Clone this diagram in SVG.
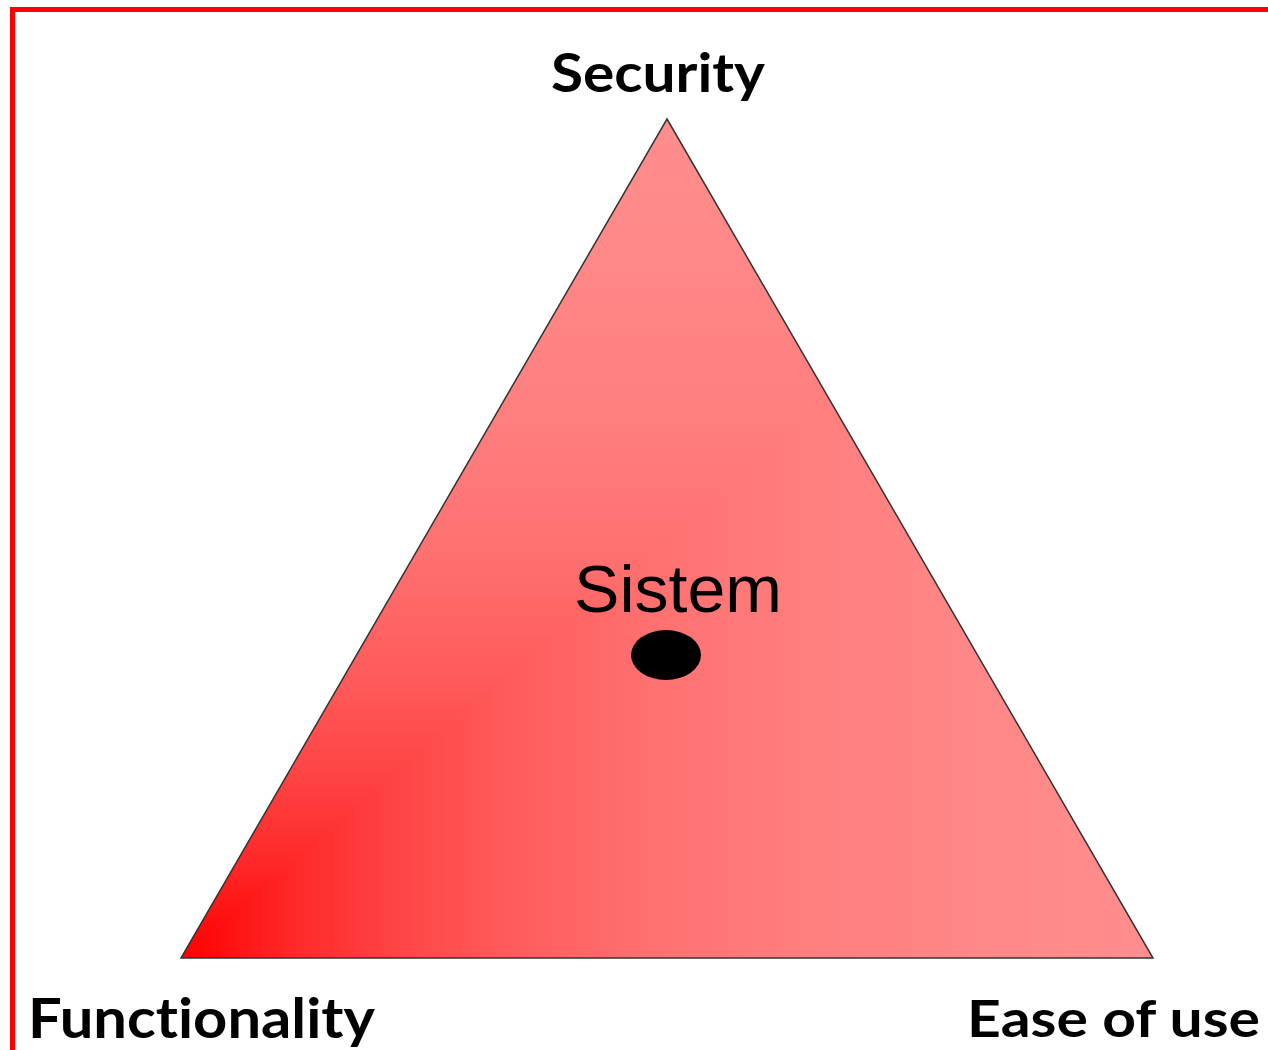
<svg xmlns="http://www.w3.org/2000/svg" width="1268" height="1050" viewBox="0 0 1268 1050">
  <style>
    .label { font-family: Lato, "Open Sans", "Liberation Sans", sans-serif; font-weight: bold; fill: #000; font-variant-ligatures: none; font-feature-settings: "liga" 0, "clig" 0; }
    .center { font-family: "Liberation Sans", Arial, sans-serif; fill: #000; }
    .frame { fill: #ff0000; }
  </style>
  <defs>
    <linearGradient id="gH" gradientUnits="userSpaceOnUse" x1="181" y1="0" x2="1153" y2="0">
      <stop offset="0" stop-color="#ff0000"/>
      <stop offset="0.12" stop-color="#ff2a2a"/>
      <stop offset="0.22" stop-color="#ff4444"/>
      <stop offset="0.33" stop-color="#ff5a5a"/>
      <stop offset="0.48" stop-color="#ff7070"/>
      <stop offset="0.64" stop-color="#ff7e7e"/>
      <stop offset="0.84" stop-color="#ff8888"/>
      <stop offset="1" stop-color="#ff8e8e"/>
    </linearGradient>
    <linearGradient id="gV" gradientUnits="userSpaceOnUse" x1="0" y1="958" x2="0" y2="119">
      <stop offset="0" stop-color="#ff0000"/>
      <stop offset="0.12" stop-color="#ff2a2a"/>
      <stop offset="0.22" stop-color="#ff4444"/>
      <stop offset="0.33" stop-color="#ff5a5a"/>
      <stop offset="0.48" stop-color="#ff7070"/>
      <stop offset="0.64" stop-color="#ff7e7e"/>
      <stop offset="0.84" stop-color="#ff8888"/>
      <stop offset="1" stop-color="#ff8e8e"/>
    </linearGradient>
  </defs>

  <rect x="0" y="0" width="1268" height="1050" fill="#ffffff"/>
  <g id="frame">
    <rect class="frame" x="10" y="7" width="1258" height="5"/>
    <rect class="frame" x="10" y="7" width="5" height="1043"/>
  </g>

  <g id="triangle">
    <polygon points="667,119 1153,958 181,958" fill="url(#gV)"/>
    <polygon points="181,958 1153,958 829,398.7" fill="url(#gH)"/>
    <polygon points="667,119 1153,958 181,958" fill="none" stroke="#333333" stroke-width="1.5" stroke-linejoin="miter"/>
  </g>

  <g id="node-security">
    <text class="label" x="551" y="92" font-size="54" textLength="214" lengthAdjust="spacingAndGlyphs">Security</text>
  </g>
  <g id="node-functionality">
    <text class="label" x="28" y="1038" font-size="56" textLength="347" lengthAdjust="spacingAndGlyphs">Functionality</text>
  </g>
  <g id="node-ease">
    <text class="label" x="967" y="1037" font-size="52" textLength="293" lengthAdjust="spacingAndGlyphs">Ease of use</text>
  </g>
  <g id="node-sistem">
    <text class="center" x="574" y="612" font-size="67" textLength="208" lengthAdjust="spacingAndGlyphs">Sistem</text>
    <ellipse cx="666" cy="655" rx="35" ry="25" fill="#000000"/>
  </g>
  <g id="connectors"></g>
</svg>
